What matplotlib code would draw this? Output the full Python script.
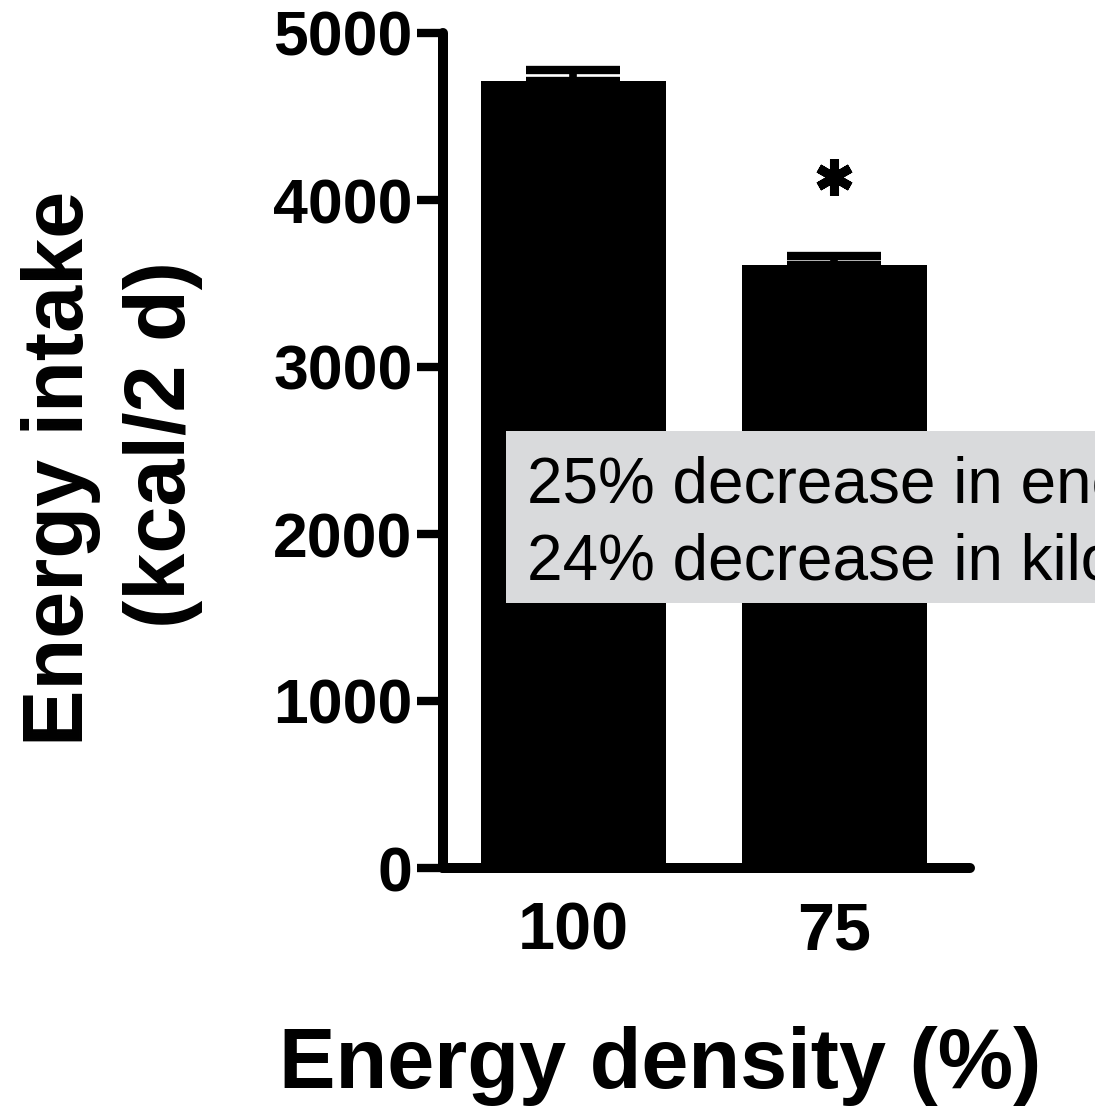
import matplotlib
matplotlib.use('Agg')
import matplotlib.pyplot as plt
from matplotlib.patches import Rectangle

# energy intake over 2 days by energy density of the diet
density = ['100', '75']
intake = [4710, 3610]
sem = [70, 55]
yticks = [0, 1000, 2000, 3000, 4000, 5000]
note = ['25% decrease in energy density', '24% decrease in kilocalories']

W, H = 1095, 1106
fig = plt.figure(figsize=(W / 100, H / 100), dpi=100)
ax = fig.add_axes([443 / W, 1 - 868 / H, (970 - 443) / W, (868 - 33) / H])

x = range(len(density))
ax.bar(x, intake, width=0.71, color='black', zorder=2)
ax.errorbar(x, intake, yerr=[[0, 0], sem], fmt='none', ecolor='black',
            elinewidth=5.5, capsize=34, capthick=6, zorder=3)

# significance star over the 75% bar
ax.plot(1, intake[1] + sem[1] + 470, marker=(6, 2, 0), markersize=26,
        mew=6.5, color='black', clip_on=False)

ax.set_xlim(-0.5, 1.52)
ax.set_ylim(0, 5000)
ax.set_xticks(list(x))
ax.set_xticklabels(density, fontsize=48, fontweight='bold', family='Liberation Sans')
ax.set_yticks(yticks)
ax.set_yticklabels([str(v) for v in yticks], fontsize=45, fontweight='bold',
                   family='Liberation Sans')
ax.tick_params(axis='x', length=0, pad=24)
ax.tick_params(axis='y', direction='out', length=19, width=6, pad=3)
for s in ['top', 'right']:
    ax.spines[s].set_visible(False)
for s in ['left', 'bottom']:
    ax.spines[s].set_linewidth(7.2)
    ax.spines[s].set_capstyle('round')

lab = dict(fontsize=61, fontweight='bold', family='Liberation Sans',
           rotation=90, rotation_mode='anchor', ha='center', va='baseline')
fig.text(83 / W, 1 - 468 / H, 'Energy intake', **lab)
fig.text(185 / W, 1 - 445 / H, '(kcal/2 d)', **lab)
fig.text(660 / W, 1 - 1088 / H, 'Energy density (%)', fontsize=61,
         fontweight='bold', family='Liberation Sans', ha='center', va='baseline')

# grey note box running off the right edge, on an overlay in pixel units
ov = fig.add_axes([0, 0, 1, 1], zorder=10)
ov.set_xlim(0, W)
ov.set_ylim(H, 0)
ov.axis('off')
ov.add_patch(Rectangle((506, 431), 700, 172, facecolor='#d9dadc', edgecolor='none'))
for line, base in zip(note, [503, 580]):
    ov.text(527, base, line, fontsize=46, family='Liberation Sans',
            va='baseline', ha='left')

fig.savefig('out.png', dpi=100)
